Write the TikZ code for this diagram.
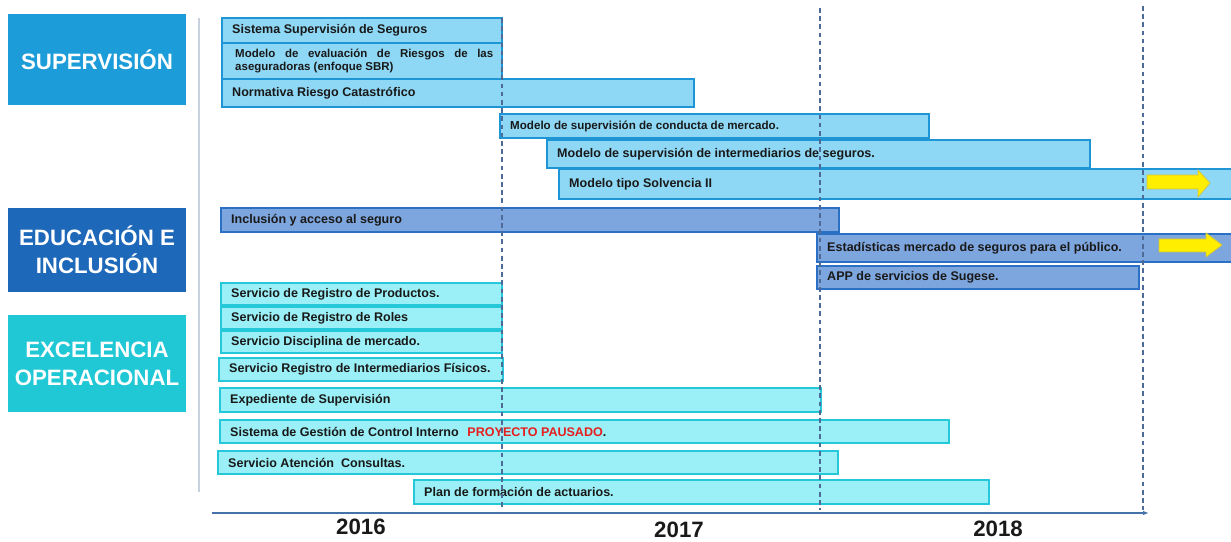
\documentclass[tikz,border=0pt]{standalone}
\usepackage{fontspec}
\setmainfont{Liberation Sans}
\usetikzlibrary{arrows.meta}
\definecolor{cajasup}{RGB}{28,156,216}
\definecolor{cajaedu}{RGB}{30,104,186}
\definecolor{cajaope}{RGB}{32,200,214}
\definecolor{rellsup}{RGB}{142,216,246}
\definecolor{bordesup}{RGB}{30,150,214}
\definecolor{relledu}{RGB}{126,166,222}
\definecolor{bordeedu}{RGB}{42,112,196}
\definecolor{rellope}{RGB}{154,240,246}
\definecolor{bordeope}{RGB}{36,200,216}
\definecolor{rayas}{RGB}{78,106,150}
\definecolor{eje}{RGB}{70,114,170}
\definecolor{pausado}{RGB}{230,30,30}
\tikzset{
  caja/.style={text=white, font=\bfseries\fontsize{19}{24}\selectfont, align=center, minimum width=5.34cm},
  etiqueta/.style={anchor=west, inner sep=0pt, text=black!90, font=\bfseries\fontsize{10.7}{12}\selectfont},
  barsup/.style={fill=rellsup, draw=bordesup, line width=1.5pt},
  baredu/.style={fill=relledu, draw=bordeedu, line width=1.5pt},
  barope/.style={fill=rellope, draw=bordeope, line width=1.5pt},
  corte/.style={rayas, line width=1pt, dash pattern=on 4pt off 3pt},
  flechaamarilla/.style={fill={rgb,255:red,255;green,238;blue,0}, draw={rgb,255:red,205;green,195;blue,70}, line width=0.6pt},
  anio/.style={font=\bfseries\fontsize{19}{22}\selectfont, text=black!90}
}
\def\tarea[#1](#2,#3)(#4,#5)#6#7{\draw[#1] (#2,#3) rectangle (#4,#5); \node[etiqueta] (#6) at ({#2+10},{(#3+#5)/2}) {#7};}

\begin{document}
\begin{tikzpicture}[x=0.03cm, y=-0.03cm]
			%%%%% START %%%%%
			\useasboundingbox (0,0) rectangle (1231,542);
			
			\node[caja, fill=cajasup, minimum height=2.73cm] (supervision) at (97,59.5) {SUPERVISIÓN};
			\node[caja, fill=cajaedu, minimum height=2.52cm] (educacion) at (97,250) {EDUCACIÓN E\\INCLUSIÓN};
			\node[caja, fill=cajaope, minimum height=2.91cm] (excelencia) at (97,363.5) {EXCELENCIA\\OPERACIONAL};
			
			\draw[line width=1pt, color={rgb,255:red,200;green,210;blue,222}] (199, 18) -- (199, 492);
			
			\tarea[barsup](222, 18)(502, 43){sistema}{Sistema Supervisión de Seguros}
			\draw[barsup] (222, 43) rectangle (502, 79);
			\node[etiqueta, anchor=north west, text width=7.74cm, align=justify, font=\bfseries\fontsize{9.8}{10.6}\selectfont] (riesgos) at (235, 49) {Modelo de evaluación de Riesgos de las\linebreak aseguradoras (enfoque SBR)};
			\tarea[barsup](222, 79)(694, 107){catastrofico}{Normativa Riesgo Catastrófico}
			\tarea[barsup](500, 114)(929, 138){conducta}{\fontsize{9.9}{12}\selectfont Modelo de supervisión de conducta de mercado.}
			\tarea[barsup](547, 140)(1090, 168){intermediarios}{Modelo de supervisión de intermediarios de seguros.}
			\tarea[barsup](559, 169)(1240, 199){solvencia}{Modelo tipo Solvencia II}
			
			\tarea[baredu](221, 208)(839, 232){inclusion}{Inclusión y acceso al seguro}
			\tarea[baredu](817, 234)(1240, 262){estadisticas}{Estadísticas mercado de seguros para el público.}
			\tarea[baredu](817, 266)(1139, 289){app}{APP de servicios de Sugese.}
			
			\tarea[barope](221, 283)(502, 305){productos}{Servicio de Registro de Productos.}
			\tarea[barope](221, 307)(502, 329){roles}{Servicio de Registro de Roles}
			\tarea[barope](221, 331)(502, 353){disciplina}{Servicio Disciplina de mercado.}
			\tarea[barope](219, 358)(503, 381){fisicos}{Servicio Registro de Intermediarios Físicos.}
			\tarea[barope](220, 388)(821, 412){expediente}{Expediente de Supervisión}
			\tarea[barope](220, 420)(949, 443){control}{Sistema de Gestión de Control Interno\hspace{0.7em}\textcolor{pausado}{PROYECTO PAUSADO}.}
			\tarea[barope](218, 451)(838, 474){atencion}{Servicio Atención\ \ Consultas.}
			\tarea[barope](414, 480)(989, 504){actuarios}{Plan de formación de actuarios.}
			
			\draw[flechaamarilla] (1147, 175) -- (1198, 175) -- (1198, 170) -- (1210, 183) -- (1198, 197) -- (1198, 189) -- (1147, 189) -- cycle;
			\draw[flechaamarilla] (1159, 239) -- (1206, 239) -- (1206, 233) -- (1222, 245) -- (1206, 257) -- (1206, 252) -- (1159, 252) -- cycle;
			
			\draw[corte] (502, 18) -- (502, 510);
			\draw[corte] (820, 8) -- (820, 510);
			\draw[corte] (1143, 6) -- (1143, 510);
			
			\draw[eje, line width=1.6pt, -{Latex[length=5pt]}] (212, 513) -- (1149, 513);
			\node[anio] (a2016) at (361, 527) {2016};
			\node[anio] (a2017) at (679, 530) {2017};
			\node[anio] (a2018) at (998, 529) {2018};
			
			%%%%% END %%%%%
		\end{tikzpicture}
\end{document}
